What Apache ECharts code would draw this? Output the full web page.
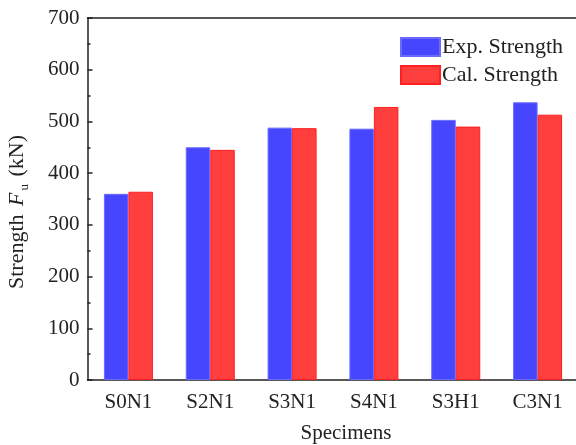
<!DOCTYPE html>
<html>
<head>
<meta charset="utf-8">
<script src="https://cdn.jsdelivr.net/npm/echarts@6/dist/echarts.min.js"></script>
<style>html,body{margin:0;padding:0;background:#fff}#c{width:576px;height:445px}</style>
</head>
<body>
<div id="c"></div>
<script>
const categories = ['S0N1', 'S2N1', 'S3N1', 'S4N1', 'S3H1', 'C3N1'];
const expStrength = [360, 450, 488, 486, 503, 537];
const calStrength = [364, 445, 487, 528, 490, 513];
const seriesNames = ['Exp. Strength', 'Cal. Strength'];

const font = 'Liberation Serif';
const chart = echarts.init(document.getElementById('c'));
chart.setOption({
  animation: false,
  backgroundColor: '#fff',
  textStyle: { fontFamily: font },
  grid: { left: 87.5, top: 18, width: 491, height: 362, show: false,
          outerBoundsMode: 'none', containLabel: false },
  legend: {
    orient: 'vertical', left: 400, top: 36, padding: 0, itemWidth: 39, itemHeight: 18, itemGap: 6,
    icon: 'rect',
    textStyle: { fontFamily: font, fontSize: 22, color: '#222', padding: [0, 0, 0, -3] },
    data: seriesNames
  },
  xAxis: [{
    type: 'category', data: categories,
    axisLine: { lineStyle: { color: '#222', width: 1.5 } },
    axisTick: { inside: true, alignWithLabel: true, length: 5, lineStyle: { color: '#222', width: 1.5 } },
    axisLabel: { fontFamily: font, fontSize: 21, color: '#222', margin: 12 },
    name: 'Specimens', nameLocation: 'middle', nameGap: 43,
    nameTextStyle: { fontFamily: font, fontSize: 21, color: '#222', padding: [0, 0, 0, 26] }
  }, {
    type: 'category', data: categories, position: 'top',
    axisLine: { show: true, lineStyle: { color: '#222', width: 1.5 } },
    axisTick: { show: false }, axisLabel: { show: false }, splitLine: { show: false }
  }],
  yAxis: {
    type: 'value', min: 0, max: 700, interval: 100,
    axisLine: { show: true, lineStyle: { color: '#222', width: 1.5 } },
    axisTick: { show: true, inside: true, length: 5, lineStyle: { color: '#222', width: 1.5 } },
    minorTick: { show: true, splitNumber: 2, length: 3, lineStyle: { color: '#222', width: 1.5 } },
    splitLine: { show: false },
    axisLabel: { fontFamily: font, fontSize: 21, color: '#222', margin: 8 },
    name: '{a|Strength }{i|F}{s|u}{a| (kN)}', nameLocation: 'middle', nameGap: 56,
    nameTextStyle: {
      fontFamily: font, fontSize: 22, color: '#222', padding: [0, 26, 0, 0],
      rich: {
        a: { fontFamily: font, fontSize: 22, color: '#222' },
        i: { fontFamily: font, fontSize: 22, fontStyle: 'italic', color: '#222', padding: [0, 1, 0, 3] },
        s: { fontFamily: font, fontSize: 13, color: '#222', padding: [15, 2, 0, 1] }
      }
    }
  },
  series: [
    { name: seriesNames[0], type: 'bar', data: expStrength, barWidth: 24.5, barGap: '0%',
      itemStyle: { color: '#4646FF', borderColor: '#6a6aff', borderWidth: 1 } },
    { name: seriesNames[1], type: 'bar', data: calStrength, barWidth: 24.5,
      itemStyle: { color: '#FF3E3E', borderColor: '#FF2020', borderWidth: 1 } }
  ]
});
</script>
</body>
</html>
